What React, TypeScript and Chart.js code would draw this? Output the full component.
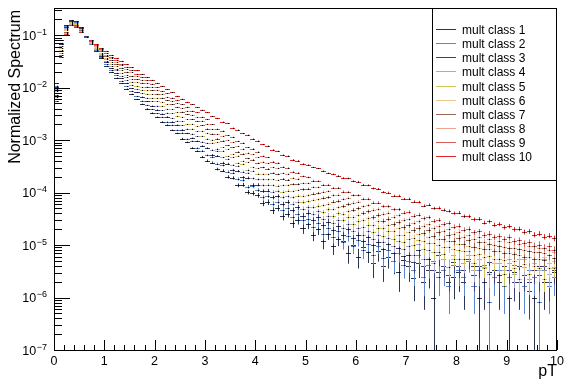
import { useEffect, useRef } from "react";
import { Chart, registerables } from "chart.js";

Chart.register(...registerables);

// pT bin centres (GeV/c), bin width 0.1
const pTBinCenters = [
  0.05, 0.15, 0.25, 0.35, 0.45, 0.55, 0.65, 0.75, 0.85, 0.95,
  1.05, 1.15, 1.25, 1.35, 1.45, 1.55, 1.65, 1.75, 1.85, 1.95,
  2.05, 2.15, 2.25, 2.35, 2.45, 2.55, 2.65, 2.75, 2.85, 2.95,
  3.05, 3.15, 3.25, 3.35, 3.45, 3.55, 3.65, 3.75, 3.85, 3.95,
  4.05, 4.15, 4.25, 4.35, 4.45, 4.55, 4.65, 4.75, 4.85, 4.95,
  5.05, 5.15, 5.25, 5.35, 5.45, 5.55, 5.65, 5.75, 5.85, 5.95,
  6.05, 6.15, 6.25, 6.35, 6.45, 6.55, 6.65, 6.75, 6.85, 6.95,
  7.05, 7.15, 7.25, 7.35, 7.45, 7.55, 7.65, 7.75, 7.85, 7.95,
  8.05, 8.15, 8.25, 8.35, 8.45, 8.55, 8.65, 8.75, 8.85, 8.95,
  9.05, 9.15, 9.25, 9.35, 9.45, 9.55, 9.65, 9.75, 9.85, 9.95,
];
const pTBinWidth = 0.1;

const classLabels = [
  "mult class 1", "mult class 2", "mult class 3", "mult class 4", "mult class 5",
  "mult class 6", "mult class 7", "mult class 8", "mult class 9", "mult class 10",
];

const classColors = [
  "#2b3450", "#5b86d0", "#3f3d78", "#a8a8d0", "#cfc65a",
  "#efc48e", "#9a6a52", "#eaa890", "#d95f5f", "#e02828",
];

// effective number of entries per class, sets the statistical error bars
const classEntries = [1.0e6, 1.2e6, 1.5e6, 1.8e6, 2.2e6, 2.6e6, 3.0e6, 3.5e6, 4.2e6, 5.0e6];

// log10 of the normalized yield per bin (null = empty bin)
const class1Log10 = [
  -1.92, -1.10, -0.81, -0.71, -0.73, -0.85, -1.02, -1.17, -1.30, -1.43,
  -1.58, -1.70, -1.81, -1.92, -2.02, -2.12, -2.22, -2.31, -2.40, -2.48,
  -2.56, -2.65, -2.71, -2.81, -2.87, -2.97, -3.04, -3.15, -3.21, -3.32,
  -3.39, -3.43, -3.55, -3.58, -3.70, -3.72, -3.86, -3.85, -3.99, -4.01,
  -4.05, -4.20, -4.18, -4.34, -4.29, -4.45, -4.40, -4.58, -4.52, -4.68,
  -4.60, -4.80, -4.70, -4.93, -4.78, -5.02, -4.88, -4.92, -5.15, -5.00,
  -5.22, -5.04, -5.14, -5.35, -5.12, -5.40, -5.22, -5.30, -5.52, -5.28,
  -5.40, -5.62, -5.35, -5.70, -5.48, -6.00, -5.52, -5.40, -5.70, -5.60,
  -5.52, -5.70, null, -5.40, -6.00, -5.70, -5.52, null, -5.70, -5.40,
  -6.00, -5.52, -5.70, null, -5.70, -6.00, -5.40, -5.70, null, -5.52,
];
const class2Log10 = [
  -1.96, -1.14, -0.83, -0.72, -0.74, -0.86, -1.02, -1.16, -1.29, -1.41,
  -1.55, -1.66, -1.76, -1.87, -1.97, -2.06, -2.16, -2.25, -2.33, -2.41,
  -2.49, -2.56, -2.65, -2.71, -2.81, -2.86, -2.98, -3.02, -3.15, -3.20,
  -3.29, -3.32, -3.45, -3.48, -3.60, -3.62, -3.74, -3.76, -3.89, -3.88,
  -3.95, -4.09, -4.06, -4.21, -4.17, -4.33, -4.29, -4.46, -4.40, -4.53,
  -4.50, -4.66, -4.58, -4.78, -4.68, -4.85, -4.74, -4.95, -4.82, -5.02,
  -4.90, -5.10, -4.98, -5.18, -5.02, -5.25, -5.10, -5.30, -5.15, -5.38,
  -5.30, -5.48, -5.18, -5.60, -5.38, -5.30, -5.60, -5.48, -5.78, -5.38,
  -5.48, -5.60, -5.30, -5.78, -5.48, -5.38, -6.08, -5.60, -5.48, -5.78,
  -5.60, -5.38, null, -5.78, -5.48, -5.60, -6.08, -5.48, -5.78, -5.60,
];
const class3Log10 = [
  -1.99, -1.17, -0.85, -0.73, -0.76, -0.87, -1.02, -1.15, -1.27, -1.39,
  -1.52, -1.63, -1.72, -1.82, -1.91, -2.01, -2.09, -2.17, -2.26, -2.34,
  -2.42, -2.50, -2.55, -2.65, -2.71, -2.80, -2.87, -2.96, -3.02, -3.11,
  -3.15, -3.28, -3.30, -3.43, -3.45, -3.57, -3.59, -3.71, -3.72, -3.85,
  -3.85, -3.97, -3.96, -4.09, -4.07, -4.22, -4.18, -4.33, -4.28, -4.44,
  -4.38, -4.53, -4.47, -4.62, -4.56, -4.72, -4.64, -4.80, -4.70, -4.87,
  -4.80, -4.93, -4.85, -5.00, -4.94, -5.08, -4.98, -5.16, -5.05, -5.20,
  -5.18, -5.33, -5.10, -5.40, -5.27, -5.48, -5.18, -5.40, -5.58, -5.33,
  -5.40, -5.48, -5.27, -5.58, -5.40, -5.70, -5.33, -5.48, -5.58, -5.40,
  -5.48, -5.70, -5.40, -5.58, -5.88, -5.48, -5.58, -5.40, -5.70, -5.48,
];
const class4Log10 = [
  -2.03, -1.21, -0.87, -0.74, -0.77, -0.88, -1.03, -1.15, -1.26, -1.37,
  -1.49, -1.59, -1.67, -1.77, -1.86, -1.94, -2.03, -2.11, -2.19, -2.26,
  -2.34, -2.43, -2.48, -2.58, -2.63, -2.72, -2.78, -2.88, -2.93, -3.03,
  -3.06, -3.18, -3.21, -3.33, -3.36, -3.47, -3.49, -3.60, -3.62, -3.73,
  -3.75, -3.86, -3.85, -3.98, -3.97, -4.09, -4.07, -4.21, -4.17, -4.31,
  -4.28, -4.40, -4.36, -4.50, -4.44, -4.58, -4.52, -4.67, -4.59, -4.73,
  -4.68, -4.80, -4.73, -4.88, -4.80, -4.95, -4.86, -5.02, -4.92, -5.08,
  -5.02, -5.18, -4.98, -5.26, -5.10, -5.35, -5.14, -5.26, -5.41, -5.18,
  -5.26, -5.35, -5.18, -5.48, -5.26, -5.41, -5.56, -5.26, -5.35, -5.48,
  -5.35, -5.56, -5.26, -5.41, -5.65, -5.35, -5.48, -5.26, -5.56, -5.41,
];
const class5Log10 = [
  -2.07, -1.24, -0.89, -0.75, -0.78, -0.89, -1.03, -1.14, -1.24, -1.35,
  -1.45, -1.55, -1.64, -1.72, -1.80, -1.89, -1.96, -2.04, -2.12, -2.19,
  -2.26, -2.34, -2.40, -2.49, -2.54, -2.64, -2.69, -2.78, -2.83, -2.92,
  -2.97, -3.05, -3.16, -3.20, -3.31, -3.33, -3.44, -3.46, -3.56, -3.58,
  -3.64, -3.75, -3.75, -3.86, -3.87, -3.98, -3.96, -4.09, -4.06, -4.18,
  -4.16, -4.27, -4.25, -4.37, -4.32, -4.45, -4.39, -4.52, -4.46, -4.60,
  -4.55, -4.66, -4.61, -4.75, -4.68, -4.82, -4.74, -4.88, -4.80, -4.95,
  -4.88, -5.00, -4.90, -5.08, -4.96, -5.14, -5.00, -5.17, -5.04, -5.26,
  -5.10, -5.26, -5.12, -5.34, -5.17, -5.44, -5.20, -5.34, -5.26, -5.56,
  -5.26, -5.44, -5.64, -5.26, -5.56, -5.34, -5.44, -5.64, -5.34, -5.44,
];
const class6Log10 = [
  -2.11, -1.28, -0.91, -0.77, -0.80, -0.90, -1.03, -1.13, -1.23, -1.33,
  -1.43, -1.52, -1.59, -1.67, -1.75, -1.83, -1.90, -1.98, -2.05, -2.12,
  -2.19, -2.27, -2.32, -2.41, -2.47, -2.55, -2.60, -2.69, -2.74, -2.82,
  -2.86, -2.99, -3.04, -3.14, -3.17, -3.27, -3.30, -3.39, -3.42, -3.52,
  -3.54, -3.64, -3.65, -3.75, -3.76, -3.86, -3.86, -3.97, -3.95, -4.06,
  -4.05, -4.14, -4.13, -4.24, -4.21, -4.31, -4.28, -4.40, -4.35, -4.47,
  -4.42, -4.53, -4.49, -4.61, -4.55, -4.68, -4.62, -4.74, -4.68, -4.80,
  -4.75, -4.86, -4.79, -4.92, -4.84, -4.97, -4.89, -5.03, -4.93, -5.08,
  -4.98, -5.12, -5.02, -5.18, -5.06, -5.22, -5.08, -5.26, -5.12, -5.28,
  -5.16, -5.30, -5.18, -5.36, -5.22, -5.40, -5.26, -5.22, -5.44, -5.30,
];
const class7Log10 = [
  -2.14, -1.31, -0.94, -0.78, -0.81, -0.91, -1.03, -1.12, -1.21, -1.30,
  -1.39, -1.48, -1.55, -1.62, -1.70, -1.77, -1.84, -1.91, -1.98, -2.05,
  -2.12, -2.19, -2.24, -2.32, -2.37, -2.46, -2.51, -2.60, -2.64, -2.72,
  -2.78, -2.88, -2.97, -3.01, -3.10, -3.14, -3.22, -3.26, -3.35, -3.37,
  -3.44, -3.52, -3.55, -3.63, -3.65, -3.74, -3.76, -3.84, -3.84, -3.94,
  -3.93, -4.02, -4.01, -4.10, -4.09, -4.17, -4.16, -4.26, -4.22, -4.33,
  -4.30, -4.39, -4.36, -4.47, -4.43, -4.54, -4.50, -4.60, -4.56, -4.66,
  -4.62, -4.71, -4.67, -4.77, -4.71, -4.82, -4.76, -4.88, -4.81, -4.93,
  -4.86, -4.98, -4.91, -5.03, -4.95, -5.08, -4.98, -5.11, -5.02, -5.15,
  -5.05, -5.17, -5.08, -5.22, -5.12, -5.26, -5.14, -5.28, -5.18, -5.24,
];
const class8Log10 = [
  -2.18, -1.34, -0.95, -0.79, -0.82, -0.92, -1.04, -1.12, -1.20, -1.29,
  -1.37, -1.44, -1.51, -1.57, -1.64, -1.71, -1.78, -1.85, -1.91, -1.98,
  -2.04, -2.12, -2.17, -2.26, -2.30, -2.39, -2.44, -2.52, -2.56, -2.63,
  -2.69, -2.79, -2.88, -2.92, -3.00, -3.04, -3.12, -3.16, -3.24, -3.27,
  -3.33, -3.41, -3.44, -3.52, -3.54, -3.63, -3.64, -3.72, -3.74, -3.82,
  -3.82, -3.89, -3.90, -3.98, -3.97, -4.05, -4.04, -4.12, -4.10, -4.19,
  -4.17, -4.26, -4.24, -4.33, -4.31, -4.40, -4.38, -4.46, -4.43, -4.52,
  -4.50, -4.57, -4.55, -4.63, -4.59, -4.68, -4.64, -4.74, -4.69, -4.79,
  -4.75, -4.85, -4.80, -4.89, -4.84, -4.95, -4.88, -4.99, -4.92, -5.03,
  -4.95, -5.05, -4.98, -5.09, -5.02, -5.14, -5.05, -5.16, -5.09, -5.14,
];
const class9Log10 = [
  -2.21, -1.38, -0.97, -0.80, -0.83, -0.93, -1.04, -1.11, -1.19, -1.27,
  -1.34, -1.41, -1.47, -1.54, -1.60, -1.67, -1.73, -1.80, -1.86, -1.93,
  -1.99, -2.06, -2.11, -2.19, -2.24, -2.32, -2.36, -2.44, -2.47, -2.55,
  -2.60, -2.70, -2.78, -2.82, -2.91, -2.94, -3.02, -3.05, -3.14, -3.16,
  -3.22, -3.30, -3.33, -3.41, -3.43, -3.51, -3.53, -3.60, -3.62, -3.69,
  -3.71, -3.77, -3.78, -3.85, -3.85, -3.91, -3.91, -3.98, -3.99, -4.05,
  -4.05, -4.12, -4.12, -4.19, -4.19, -4.26, -4.26, -4.32, -4.32, -4.38,
  -4.37, -4.44, -4.42, -4.49, -4.47, -4.54, -4.52, -4.60, -4.58, -4.65,
  -4.63, -4.71, -4.69, -4.76, -4.74, -4.81, -4.78, -4.85, -4.83, -4.89,
  -4.85, -4.93, -4.91, -4.97, -4.95, -5.02, -4.99, -5.05, -5.02, -5.09,
];
const class10Log10 = [
  -2.26, -1.42, -1.00, -0.81, -0.85, -0.94, -1.04, -1.10, -1.17, -1.24,
  -1.31, -1.37, -1.43, -1.49, -1.55, -1.61, -1.67, -1.73, -1.79, -1.85,
  -1.91, -1.97, -2.03, -2.09, -2.15, -2.21, -2.27, -2.32, -2.37, -2.42,
  -2.47, -2.54, -2.58, -2.65, -2.68, -2.76, -2.80, -2.87, -2.90, -2.97,
  -3.01, -3.08, -3.11, -3.18, -3.21, -3.28, -3.30, -3.37, -3.39, -3.45,
  -3.47, -3.52, -3.54, -3.59, -3.63, -3.65, -3.68, -3.72, -3.73, -3.78,
  -3.79, -3.85, -3.86, -3.92, -3.93, -3.99, -4.00, -4.06, -4.06, -4.12,
  -4.12, -4.17, -4.18, -4.25, -4.23, -4.30, -4.29, -4.33, -4.35, -4.39,
  -4.38, -4.45, -4.45, -4.51, -4.50, -4.57, -4.55, -4.61, -4.60, -4.66,
  -4.64, -4.70, -4.69, -4.75, -4.74, -4.80, -4.78, -4.84, -4.82, -4.87,
];

const classLog10 = [
  class1Log10, class2Log10, class3Log10, class4Log10, class5Log10,
  class6Log10, class7Log10, class8Log10, class9Log10, class10Log10,
];

// axis ranges and ticks
const xRange = [0, 10];
const yRange = [1e-7, 0.33];
const xMajorTicks = [0, 1, 2, 3, 4, 5, 6, 7, 8, 9, 10];
const xMinorStep = 0.2;
const yDecadeExponents = [-7, -6, -5, -4, -3, -2, -1];
const xTitle = "pT";
const yTitle = "Normalized Spectrum";

const W = 566;
const H = 385;
const FONT = "'Liberation Sans', Arial, Helvetica, sans-serif";

const rootStylePlugin = {
  id: "rootStyle",
  beforeDraw(chart: any) {
    const ctx = chart.ctx;
    ctx.save();
    ctx.fillStyle = "#ffffff";
    ctx.fillRect(0, 0, chart.width, chart.height);
    ctx.restore();
  },
  afterDatasetsDraw(chart: any) {
    const ctx: CanvasRenderingContext2D = chart.ctx;
    const a = chart.chartArea;
    const xs = chart.scales.x;
    const ys = chart.scales.y;

    // histogram error crosses
    ctx.save();
    ctx.beginPath();
    ctx.rect(a.left, a.top, a.right - a.left, a.bottom - a.top);
    ctx.clip();
    chart.data.datasets.forEach((ds: any, di: number) => {
      const entries = classEntries[di];
      ctx.strokeStyle = ds.borderColor;
      ctx.lineWidth = 1;
      ctx.beginPath();
      const centers: number[][] = [];
      ds.data.forEach((p: any) => {
        if (p.y == null) return;
        const err = Math.sqrt(p.y / entries);
        const px = Math.round(xs.getPixelForValue(p.x)) + 0.5;
        const xl = Math.round(xs.getPixelForValue(p.x - pTBinWidth / 2));
        const xr = Math.round(xs.getPixelForValue(p.x + pTBinWidth / 2));
        const py = Math.round(ys.getPixelForValue(p.y)) + 0.5;
        const yt = ys.getPixelForValue(p.y + err);
        const yb = p.y - err > 0 ? ys.getPixelForValue(p.y - err) : a.bottom;
        ctx.moveTo(xl, py);
        ctx.lineTo(xr, py);
        ctx.moveTo(px, yt);
        ctx.lineTo(px, yb);
        centers.push([px, py]);
      });
      ctx.stroke();
      ctx.fillStyle = "#000000";
      centers.forEach(([px, py]) => ctx.fillRect(px - 0.5, py - 0.5, 1, 1));
    });
    ctx.restore();

    ctx.save();
    ctx.strokeStyle = "#000000";
    ctx.lineWidth = 1;
    // frame
    ctx.strokeRect(a.left + 0.5, a.top + 0.5, a.right - a.left - 1, a.bottom - a.top);

    // y ticks (inward)
    ctx.beginPath();
    yDecadeExponents.forEach((e) => {
      const yy = Math.round(ys.getPixelForValue(Math.pow(10, e))) + 0.5;
      ctx.moveTo(a.left, yy);
      ctx.lineTo(a.left + 16, yy);
      for (let m = 2; m <= 9; m++) {
        const v = m * Math.pow(10, e);
        if (v > yRange[1]) break;
        const ym = Math.round(ys.getPixelForValue(v)) + 0.5;
        ctx.moveTo(a.left, ym);
        ctx.lineTo(a.left + 8, ym);
      }
    });
    // x ticks (inward)
    for (let t = xRange[0]; t <= xRange[1] + 1e-9; t += xMinorStep) {
      const isMajor = Math.abs(t - Math.round(t)) < 1e-6;
      const xx = Math.round(xs.getPixelForValue(t)) + 0.5;
      ctx.moveTo(xx, a.bottom);
      ctx.lineTo(xx, a.bottom - (isMajor ? 10 : 5));
    }
    ctx.stroke();

    // tick labels
    ctx.fillStyle = "#000000";
    ctx.textBaseline = "alphabetic";
    xMajorTicks.forEach((t) => {
      ctx.font = `12.5px ${FONT}`;
      ctx.textAlign = "center";
      ctx.fillText(String(t), xs.getPixelForValue(t), a.bottom + 15);
    });
    yDecadeExponents.forEach((e) => {
      const yy = ys.getPixelForValue(Math.pow(10, e));
      const expText = "\u2212" + String(-e);
      ctx.font = `9px ${FONT}`;
      const wExp = ctx.measureText(expText).width;
      const right = a.left - 7;
      ctx.textAlign = "right";
      ctx.fillText(expText, right, yy - 0.5);
      ctx.font = `12.5px ${FONT}`;
      ctx.fillText("10", right - wExp - 0.5, yy + 4.5);
    });

    // axis titles
    ctx.font = `16px ${FONT}`;
    ctx.textAlign = "right";
    ctx.fillText(xTitle, a.right, a.bottom + 26);
    ctx.save();
    ctx.translate(20, a.top + 2);
    ctx.rotate(-Math.PI / 2);
    ctx.textAlign = "right";
    ctx.fillText(yTitle, 0, 0);
    ctx.restore();

    // legend box
    const lx = 432;
    const ly = a.top;
    const lw = a.right - lx;
    const lh = 172;
    ctx.fillStyle = "#ffffff";
    ctx.fillRect(lx, ly, lw, lh);
    ctx.strokeStyle = "#000000";
    ctx.strokeRect(lx + 0.5, ly + 0.5, lw - 1, lh);
    ctx.font = `12px ${FONT}`;
    ctx.textAlign = "left";
    chart.data.datasets.forEach((ds: any, i: number) => {
      const ry = Math.round(29 + i * 14.15) + 0.5;
      ctx.strokeStyle = ds.borderColor;
      ctx.beginPath();
      ctx.moveTo(436, ry);
      ctx.lineTo(456, ry);
      ctx.stroke();
      ctx.fillStyle = "#000000";
      ctx.fillText(ds.label, 462, ry + 4.5);
    });
    ctx.restore();
  },
};

export default function App() {
  const canvasRef = useRef<HTMLCanvasElement | null>(null);

  useEffect(() => {
    document.body.style.margin = "0";
    const canvas = canvasRef.current;
    if (!canvas) return;
    const datasets = classLog10.map((logs, i) => ({
      label: classLabels[i],
      data: pTBinCenters.map((c, j) => ({
        x: c,
        y: logs[j] == null ? null : Math.pow(10, logs[j] as number),
      })),
      borderColor: classColors[i],
      backgroundColor: classColors[i],
      pointRadius: 0,
      showLine: false,
    }));
    const chart = new Chart(canvas, {
      type: "scatter",
      data: { datasets } as any,
      options: {
        responsive: false,
        animation: false,
        devicePixelRatio: 1,
        events: [],
        layout: { padding: { left: 54, right: 9, top: 8, bottom: 35 } },
        scales: {
          x: { type: "linear", min: xRange[0], max: xRange[1], display: false },
          y: { type: "logarithmic", min: yRange[0], max: yRange[1], display: false },
        },
        plugins: { legend: { display: false }, tooltip: { enabled: false } },
      },
      plugins: [rootStylePlugin],
    } as any);
    return () => chart.destroy();
  }, []);

  return (
    <div style={{ position: "fixed", left: 0, top: 0, width: W, height: H, background: "#fff" }}>
      <canvas ref={canvasRef} width={W} height={H} style={{ display: "block", width: W, height: H }} />
    </div>
  );
}
